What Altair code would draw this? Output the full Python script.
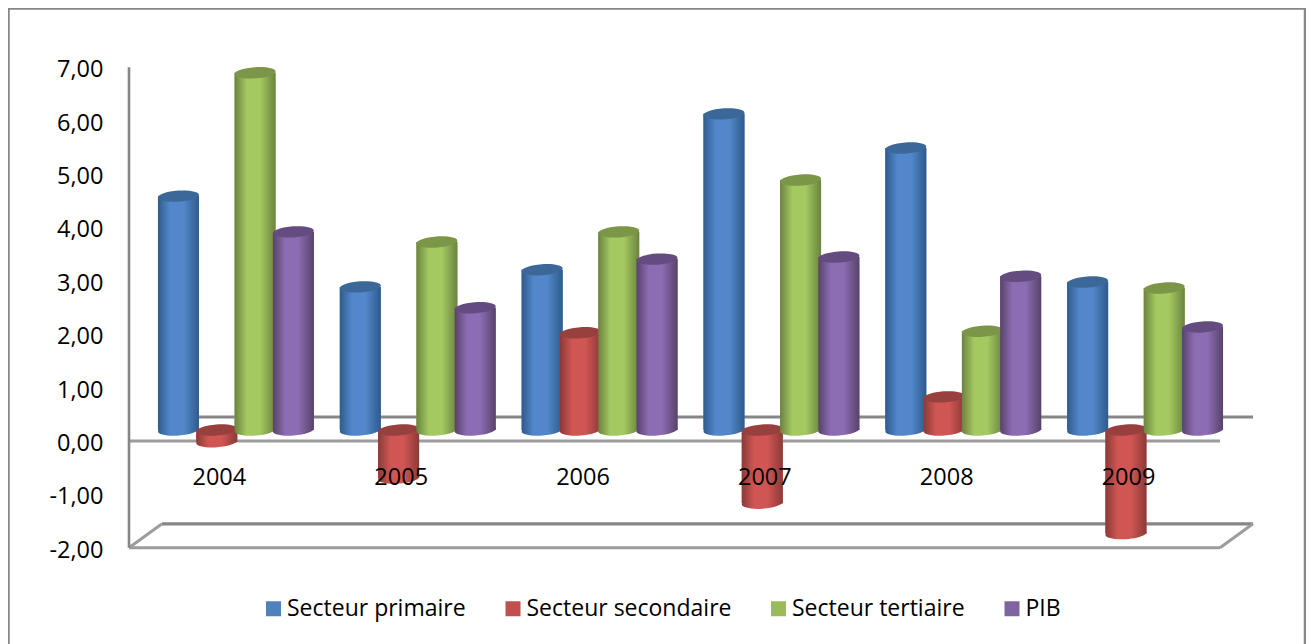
import altair as alt
import pandas as pd

years = ["2004", "2005", "2006", "2007", "2008", "2009"]
series = ["Secteur primaire", "Secteur secondaire", "Secteur tertiaire", "PIB"]
primaire = [4.38, 2.68, 3.00, 5.92, 5.28, 2.77]
secondaire = [-0.22, -0.90, 1.82, -1.37, 0.62, -1.94]
tertiaire = [6.69, 3.52, 3.71, 4.68, 1.85, 2.66]
pib = [3.71, 2.29, 3.20, 3.24, 2.88, 1.93]
all_values = [primaire, secondaire, tertiaire, pib]
flat = ["#4f81bd", "#c0504d", "#9bbb59", "#8064a2"]
edge = ["#2f5b8c", "#8c3a38", "#6b8340", "#584369"]
bright = ["#5288cb", "#cf5653", "#a4c961", "#8c6cb3"]
top = ["#3b6898", "#98403e", "#7b9647", "#654c80"]

W, H = 1298, 636
UNIT = 53.4           # px per value unit
Y0 = 441 - 8          # chart px of value 0 on the front plane
y_dom = [Y0 / UNIT, (Y0 - H) / UNIT]
x_rng = [121, 1212]
XS = alt.Scale(domain=[0, 6], range=x_rng, nice=False, zero=False)
YS = alt.Scale(domain=y_dom, range=[0, H], nice=False, zero=False)
STEP = (x_rng[1] - x_rng[0]) / 6
DEPTH = 11 / UNIT     # bars stand mid-depth
SHIFT = 16 / STEP
GAP = 38.3 / STEP
HALF = 20.5 / STEP
FONT = "Open Sans"

YAX = alt.Axis(
    values=[-2, -1, 0, 1, 2, 3, 4, 5, 6, 7], orient="left", offset=-95, domain=False,
    ticks=False, grid=False, labelPadding=0, labelFontSize=23.5, labelFont=FONT,
    labelColor="#000000", labelFlush=False, labelOverlap=False, title=None, zindex=1,
    labelOffset=2.5,
    labelExpr="replace(replace(format(datum.value, '.2f'), '.', ','), '\u2212', '-')")


def Y(field):
    return alt.Y(field, scale=YS, axis=YAX, title=None)


rows = []
for s, (name, vals) in enumerate(zip(series, all_values)):
    for i, v in enumerate(vals):
        c = i + 0.5 + SHIFT + (s - 1.5) * GAP
        rows.append(dict(serie=name, s=s, annee=years[i], xc=c, x1=c - HALF, x2=c + HALF,
                         yend=v + DEPTH, ybase=DEPTH))
df = pd.DataFrame(rows)

DX, DY = 33 / STEP, 24 / UNIT
lines = pd.DataFrame([
    dict(x=0, x2=6, y=-2, y2=-2),
    dict(x=0, x2=6, y=0, y2=0),
    dict(x=0, x2=DX, y=-2, y2=-2 + DY),
    dict(x=6, x2=6 + DX, y=-2, y2=-2 + DY),
])
back = pd.DataFrame([
    dict(x=DX, x2=6 + DX, y=-2 + DY, y2=-2 + DY),
    dict(x=DX, x2=6 + DX, y=DY, y2=DY),
])
wall = pd.DataFrame([dict(x=0, x2=0, y=7, y2=-2)])

frame = alt.Chart(alt.Data(values=[{}])).mark_rect(
    fill="white", stroke="#878787", strokeWidth=2.5
).encode(x=alt.value(0.5), x2=alt.value(1297), y=alt.value(0.5), y2=alt.value(900))


def rule_layer(d, color, w):
    return alt.Chart(d).mark_rule(color=color, strokeWidth=w).encode(
        x=alt.X("x:Q", scale=XS, axis=None),
        x2="x2:Q",
        y=Y("y:Q"),
        y2="y2:Q",
    )


legend_layer = alt.Chart(df).mark_rect().encode(
    x=alt.X("x1:Q", scale=XS, axis=None), x2="x2:Q",
    y=Y("yend:Q"), y2="ybase:Q",
    color=alt.Color("serie:N", scale=alt.Scale(domain=series, range=flat), legend=alt.Legend(
        orient="none", legendX=254, legendY=589, direction="horizontal", columns=4, title=None,
        symbolType="square", symbolSize=225, symbolStrokeWidth=0, symbolOpacity=1,
        labelFont=FONT, labelFontSize=23, labelColor="#000000", labelLimit=400,
        columnPadding=35.5, labelOffset=2)),
)

# flat-topped ellipse, slightly tilted
ELL = "M-1,0.07A1,0.27,-4,1,1,1,-0.07A1,0.27,-4,1,1,-1,0.07Z"
ESIZE = 41 ** 2

layers = [frame, rule_layer(back, "#868686", 3.2),
          rule_layer(lines, "#9c9c9c", 3), rule_layer(wall, "#868686", 2.6), legend_layer]

for s in range(4):
    d = df[df.s == s]
    grad = alt.Gradient(gradient="linear", x1=0, x2=1, y1=0, y2=0, stops=[
        alt.GradientStop(color=edge[s], offset=0),
        alt.GradientStop(color=bright[s], offset=0.3),
        alt.GradientStop(color=bright[s], offset=0.62),
        alt.GradientStop(color=edge[s], offset=1),
    ])
    # lower cap: at the base for positive bars, at the end for negative ones
    d = d.assign(low=d[["yend", "ybase"]].min(axis=1), up=d[["yend", "ybase"]].max(axis=1))
    layers.append(alt.Chart(d).mark_point(shape=ELL, size=ESIZE, filled=True, fill=grad, opacity=1, strokeWidth=0).encode(
        x=alt.X("xc:Q", scale=XS, axis=None), y=Y("low:Q")))
    layers.append(alt.Chart(d).mark_rect(fill=grad).encode(
        x=alt.X("x1:Q", scale=XS, axis=None), x2="x2:Q",
        y=Y("up:Q"), y2="low:Q"))
    layers.append(alt.Chart(d).mark_point(shape=ELL, size=ESIZE, filled=True, fill=top[s], opacity=1, strokeWidth=0).encode(
        x=alt.X("xc:Q", scale=XS, axis=None), y=Y("up:Q")))

lab = pd.DataFrame({"annee": years, "x": [i + 0.497 for i in range(6)], "y": [-0.69] * 6})
layers.append(alt.Chart(lab).mark_text(font=FONT, fontSize=23.5, color="#000000", baseline="middle", align="center").encode(
    x=alt.X("x:Q", scale=XS, axis=None), y=Y("y:Q"), text="annee:N"))

chart = alt.layer(*layers).properties(
    width=W, height=H, padding=0, autosize=alt.AutoSizeParams(type="none"),
    background="white",
).configure_view(stroke=None)

chart.save("out.html", embed_options={"renderer": "svg", "actions": False})
